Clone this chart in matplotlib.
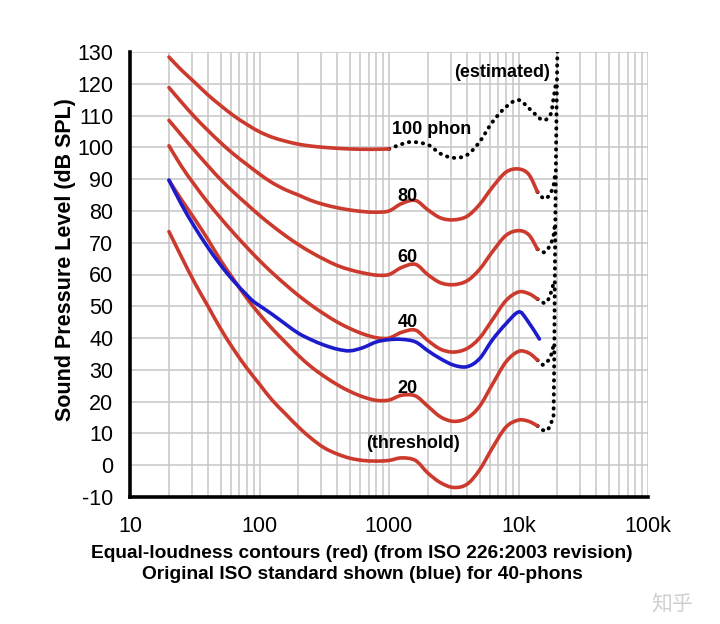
import numpy as np
import matplotlib
matplotlib.use("Agg")
import matplotlib.pyplot as plt
from matplotlib.path import Path
from matplotlib.patches import PathPatch
from matplotlib.ticker import FixedLocator, NullFormatter

# frequencies (Hz) for the solid contours
freqs = [20, 25, 31.5, 40, 50, 63, 80, 100, 125, 160, 200, 250, 315, 400, 500,
         630, 800, 1000, 1250, 1600, 2000, 2500, 3150, 4000, 5000, 6300, 8000,
         10000, 12000, 14000]

# equal-loudness contours (red)
threshold = [73.5, 65.5, 57.5, 50, 43, 36.5, 30.5, 25.5, 20.5, 16, 12, 8.5, 5.5,
             3.5, 2.2, 1.5, 1.3, 1.5, 2.3, 1.5, -2.5, -5.5, -7, -6, -1.5, 5.5, 12,
             14.2, 13.8, 12.4]
phon20 = [89.6, 83.5, 77.5, 71, 64.5, 58.5, 52.5, 47.5, 43, 38.5, 34.5, 31, 28,
          25.3, 23.2, 21.5, 20.4, 20.5, 22, 21.8, 18.5, 15.2, 13.8, 14.8, 18.5,
          25.5, 32.5, 35.8, 35.3, 33.1]
phon40 = [100.5, 94, 88.2, 82.6, 77.8, 73.1, 68.5, 64.4, 60.6, 56.7, 53.4, 50.4,
          47.6, 45, 43, 41.3, 40.1, 40, 41.8, 42.5, 39.2, 36.5, 35.6, 36.7, 40,
          45.8, 51.8, 54.5, 54, 52.3]
phon60 = [108.5, 103.8, 99, 94.2, 89.9, 85.9, 82.1, 78.6, 75.4, 72.1, 69.4, 67,
          64.8, 62.8, 61.5, 60.5, 59.8, 60, 62.2, 63.2, 59.9, 57.4, 56.8, 58,
          61.6, 67.2, 72.3, 73.8, 72.5, 68]
phon80 = [118.8, 114.2, 109.6, 105.3, 101.5, 97.9, 94.6, 91.6, 88.9, 86.6, 85,
          83.3, 82, 81, 80.3, 79.8, 79.6, 80, 82.3, 83.3, 80.3, 77.8, 77.2, 78.3,
          82, 87.5, 92.2, 93.2, 91.5, 86]

# 100 phon is only measured up to 1 kHz
freqs100 = [20, 25, 31.5, 40, 50, 63, 80, 100, 125, 160, 200, 250, 315, 400,
            500, 630, 800, 1000]
phon100 = [128.4, 124.3, 120.5, 116.5, 113.2, 110, 107.2, 104.9, 103.2, 101.9,
           101, 100.4, 100, 99.7, 99.5, 99.4, 99.4, 99.5]

# original ISO 40-phon curve (blue)
blue_f = [20, 25, 31.5, 40, 50, 63, 80, 90, 100, 125, 160, 200, 250, 315, 400,
          500, 630, 800, 1000, 1250, 1600, 2000, 2500, 3150, 4000, 5000, 6300,
          8000, 10000, 11500, 14500]
blue_db = [89.7, 82, 75, 68.5, 63, 58, 53.5, 51.5, 50.2, 47.5, 44.3, 41.5, 39.5,
           37.8, 36.5, 36, 37, 38.8, 39.5, 39.6, 38.8, 36, 33.5, 31.5, 31, 33.5,
           39.5, 44.5, 48.2, 46, 39.7]

# estimated (dotted) parts
est100_f = [1000, 1250, 1500, 2000, 2500, 3150, 4000, 5000, 6300, 8000, 10000,
            12400, 15300, 17600, 18600, 19400]
est100_db = [99.5, 101, 101.7, 100.8, 98, 96.7, 97.6, 101.7, 108, 112.7, 114.9,
             111.8, 108.6, 110.2, 115.2, 120]
est80_f = [14000, 16100, 18300, 19100]
est80_db = [86, 83.8, 86.9, 91]
est60_f = [14000, 16100, 18300, 19000]
est60_db = [68, 67.1, 71, 75]
est40_f = [14000, 16100, 17600, 18800]
est40_db = [52.3, 51, 53.6, 58]
est20_f = [14000, 15600, 17600, 18700]
est20_db = [33.1, 31.6, 34, 38]
estthr_f = [14000, 16400, 18300, 18700, 19000, 19300, 19700, 20000]
estthr_db = [12.4, 10.8, 14.6, 19, 50, 82, 114, 131]

RED = "#cc3a2e"
BLUE = "#1c1ccc"

plt.rcParams["font.family"] = ["Liberation Sans", "DejaVu Sans"]
plt.rcParams["axes.unicode_minus"] = False


def smooth(fs, ds):
    # Catmull-Rom through the read points, drawn as bezier segments in log-x
    p = np.column_stack([np.log10(fs), ds])
    n = len(p)
    verts = [p[0]]
    codes = [Path.MOVETO]
    for i in range(n - 1):
        p0 = p[i - 1] if i > 0 else p[i]
        p3 = p[i + 2] if i + 2 < n else p[i + 1]
        verts += [p[i] + (p[i + 1] - p0) / 6, p[i + 1] - (p3 - p[i]) / 6, p[i + 1]]
        codes += [Path.CURVE4] * 3
    verts = np.array(verts)
    verts[:, 0] = 10 ** verts[:, 0]
    return Path(verts, codes)


fig = plt.figure(figsize=(7.2, 6.24), dpi=100)
ax = fig.add_axes([130 / 720, 1 - 497 / 624, 518 / 720, 445 / 624])

ax.set_xscale("log")
ax.set_xlim(10, 100000)
ax.set_ylim(-10, 130)

for f, d in [(est100_f, est100_db), (est80_f, est80_db), (est60_f, est60_db),
             (est40_f, est40_db), (est20_f, est20_db), (estthr_f, estthr_db)]:
    ax.add_patch(PathPatch(smooth(f, d), fill=False, edgecolor="black", lw=2.8,
                           linestyle=(0, (0.1, 1.7)), capstyle="round",
                           zorder=3))

for f, d in [(freqs, threshold), (freqs, phon20), (freqs, phon40),
             (freqs, phon60), (freqs, phon80), (freqs100, phon100)]:
    ax.add_patch(PathPatch(smooth(f, d), fill=False, edgecolor=RED, lw=2.6,
                           capstyle="round", zorder=4))
ax.add_patch(PathPatch(smooth(blue_f, blue_db), fill=False, edgecolor=BLUE,
                       lw=2.6, capstyle="round", zorder=5))

# labels on the curves
lab = dict(fontsize=13, fontweight="bold", ha="center", va="center", zorder=6)
ax.text(7500, 123.4, "(estimated)", **lab)
ax.text(2140, 105.5, "100 phon", **lab)
ax.text(1400, 84.4, "80", **lab)
ax.text(1400, 65.5, "60", **lab)
ax.text(1400, 44.8, "40", **lab)
ax.text(1380, 24, "20", **lab)
ax.text(1530, 6.7, "(threshold)", **lab)

# grid
ax.xaxis.set_major_locator(FixedLocator([10, 100, 1000, 10000, 100000]))
ax.xaxis.set_minor_locator(FixedLocator(
    [m * 10 ** e for e in range(1, 5) for m in range(2, 10)]))
ax.xaxis.set_minor_formatter(NullFormatter())
ax.set_xticklabels(["10", "100", "1000", "10k", "100k"])
ax.set_yticks(range(-10, 131, 10))
ax.grid(which="both", axis="x", color="#c6c6c6", lw=1.1, zorder=0)
ax.grid(which="major", axis="y", color="#c6c6c6", lw=1.1, zorder=0)
ax.set_axisbelow(True)

ax.tick_params(which="both", length=0, labelsize=15.5, colors="black")
ax.tick_params(axis="y", pad=12)
ax.tick_params(axis="x", pad=14)

for s in ["top", "right"]:
    ax.spines[s].set_visible(False)
for s in ["left", "bottom"]:
    ax.spines[s].set_linewidth(2.6)
    ax.spines[s].set_color("black")

fig.text(66 / 720, 1 - 260 / 624, "Sound Pressure Level (dB SPL)",
         rotation=90, ha="center", va="center", fontsize=15.5,
         fontweight="bold")
fig.text(362 / 720, 1 - 545 / 624,
         "Equal-loudness contours (red) (from ISO 226:2003 revision)\n"
         "Original ISO standard shown (blue) for 40-phons",
         ha="center", va="top", fontsize=13.8, fontweight="bold",
         linespacing=1.32)

# watermark
fig.text(672 / 720, 1 - 603 / 624, "知乎", ha="center", va="center",
         fontsize=15, color="#d0d0d0",
         family=["Noto Sans CJK SC", "DejaVu Sans"])

fig.savefig("out.png", dpi=100)
